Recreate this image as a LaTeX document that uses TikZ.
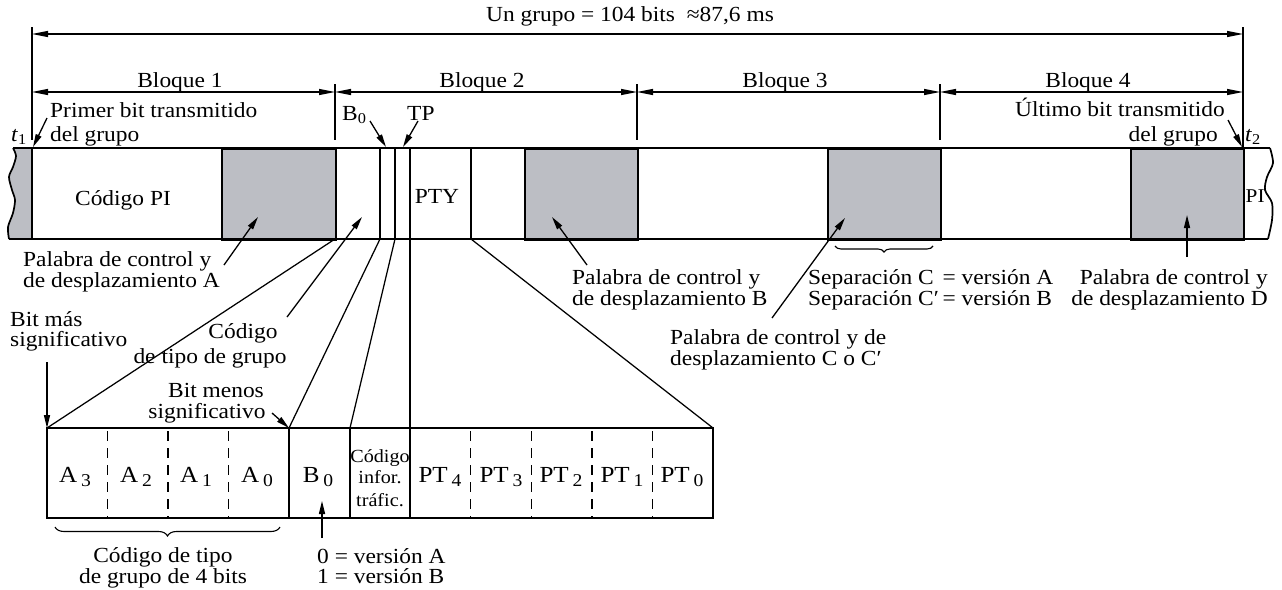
\documentclass[tikz,border=0pt]{standalone}
\usepackage{fontspec}
\setmainfont{Liberation Serif}[FakeStretch=1.09]
\usetikzlibrary{arrows.meta,decorations.pathreplacing}
\definecolor{boxgray}{RGB}{188,190,196}
\newcommand{\subdn}[1]{\raisebox{-3.5pt}{\fontsize{15}{15}\selectfont #1}}
\newcommand{\subcell}[1]{\raisebox{-4.5pt}{\fontsize{18}{18}\selectfont #1}}
\begin{document}
\begin{tikzpicture}[x=1pt,y=-1pt,
  lbl/.style={inner sep=0pt,font=\fontsize{21.5}{21}\selectfont},
  cell/.style={inner sep=0pt,font=\fontsize{23}{23}\selectfont},
  small/.style={inner sep=0pt,font=\fontsize{18.5}{18}\selectfont},
  strip/.style={line width=1.7pt},
  thin/.style={line width=1.25pt},
  dimarrow/.style={line width=1.2pt,{Triangle[length=16pt,width=6pt]}-{Triangle[length=16pt,width=6pt]}},
  lead/.style={line width=1.3pt,-{Triangle[length=13pt,width=6pt]}},
  graybox/.style={fill=boxgray,draw=black,line width=1.7pt},
  bracestyle/.style={line width=1.1pt,decorate,decoration={brace,mirror,amplitude=#1}}
  ]
\useasboundingbox (0,0) rectangle (1282,589);

% ---------- strip ----------
\fill[boxgray] plot[smooth] coordinates {(13,148) (16,156) (13,167) (9,177) (12,190) (15,200) (13,213) (8,227) (9,239)} -- (32,239) -- (32,148) -- cycle;
\draw[strip] plot[smooth] coordinates {(13,148) (16,156) (13,167) (9,177) (12,190) (15,200) (13,213) (8,227) (9,239)};
\draw[strip] plot[smooth] coordinates {(1270,148) (1273,163) (1267,177) (1265,190) (1272,203) (1272,220) (1268,239)};
\node[graybox,minimum width=114pt,minimum height=91pt,inner sep=0pt,anchor=north west] (gA) at (221,148) {};
\node[graybox,minimum width=113pt,minimum height=91pt,inner sep=0pt,anchor=north west] (gB) at (524,148) {};
\node[graybox,minimum width=113pt,minimum height=91pt,inner sep=0pt,anchor=north west] (gC) at (827,148) {};
\node[graybox,minimum width=113pt,minimum height=91pt,inner sep=0pt,anchor=north west] (gD) at (1130,148) {};
\draw[strip] (13,148) -- (1270,148);
\draw[strip] (9,239) -- (1268,239);
\foreach \x in {32,380,395,410,471} \draw[strip] (\x,148) -- (\x,239);

% ---------- dimensions ----------
\coordinate (e0t) at (32,27);  \coordinate (e0b) at (32,140);
\coordinate (e4t) at (1243,27); \coordinate (e4b) at (1243,148);
\draw[thin] (e0t) -- (e0b);
\draw[thin] (e4t) -- (e4b);
\foreach \x in {335,637,940} \draw[thin] (\x,84) -- (\x,140);
\coordinate (d0) at (32,34); \coordinate (d4) at (1243,34);
\draw[dimarrow] (d0) -- (d4);
\coordinate (k0) at (32,92); \coordinate (k1) at (335,92); \coordinate (k2) at (637,92);
\coordinate (k3) at (940,92); \coordinate (k4) at (1243,92);
\draw[dimarrow] (k0) -- (k1);
\draw[dimarrow] (k1) -- (k2);
\draw[dimarrow] (k2) -- (k3);
\draw[dimarrow] (k3) -- (k4);

\node[lbl,anchor=base] (tot) at (630,21) {Un grupo = 104 bits\ \ ≈87,6 ms};
\node[lbl,anchor=base] (bl1) at (180,87) {Bloque 1};
\node[lbl,anchor=base] (bl2) at (482,87) {Bloque 2};
\node[lbl,anchor=base] (bl3) at (785,87) {Bloque 3};
\node[lbl,anchor=base] (bl4) at (1088,87) {Bloque 4};

% ---------- upper labels ----------
\node[lbl,anchor=base west] (pb1) at (50,117) {Primer bit transmitido};
\node[lbl,anchor=base west] (pb2) at (50,141) {del grupo};
\node[lbl,anchor=base west] (t1) at (11,141) {\textit{t}\subdn{1}};
\coordinate (pbT) at (47,118); \coordinate (pbH) at (33,147);
\draw[lead] (pbT) -- (pbH);

\node[lbl,anchor=base west] (b0u) at (342,120) {B\subdn{0}};
\coordinate (b0T) at (370,121); \coordinate (b0H) at (386,147);
\draw[lead] (b0T) -- (b0H);
\node[lbl,anchor=base west] (tp) at (407,120) {TP};
\coordinate (tpT) at (418,121); \coordinate (tpH) at (403,147);
\draw[lead] (tpT) -- (tpH);

\node[lbl,anchor=base east] (ub1) at (1225,116) {Último bit transmitido};
\node[lbl,anchor=base east] (ub2) at (1218,141) {del grupo};
\node[lbl,anchor=base west] (t2) at (1245,141) {\textit{t}\subdn{2}};
\coordinate (ubT) at (1228,120); \coordinate (ubH) at (1242,147);
\draw[lead] (ubT) -- (ubH);

\node[lbl,anchor=base] (cpi) at (123,205) {Código PI};
\node[lbl,anchor=base] (pty) at (437,203) {PTY};
\node[inner sep=0pt,font=\fontsize{19.5}{19}\selectfont,anchor=base west] (pir) at (1245.5,202) {PI};

% ---------- lower labels around strip ----------
\node[lbl,anchor=base west] (pa1) at (23,266) {Palabra de control y};
\node[lbl,anchor=base west] (pa2) at (23,287) {de desplazamiento A};
\coordinate (paT) at (224,265); \coordinate (paH) at (258,217);
\draw[lead] (paT) -- (paH);

\node[lbl,anchor=base west] (bm1) at (10,326) {Bit más};
\node[lbl,anchor=base west] (bm2) at (10,346) {significativo};
\coordinate (bmT) at (47,362); \coordinate (bmH) at (47,428);
\draw[lead] (bmT) -- (bmH);

\node[lbl,anchor=base] (ct1) at (243,338) {Código};
\node[lbl,anchor=base] (ct2) at (210,363) {de tipo de grupo};
\coordinate (ctT) at (287,317); \coordinate (ctH) at (362,217);
\draw[lead] (ctT) -- (ctH);

\node[lbl,anchor=base] (bn1) at (216,397) {Bit menos};
\node[lbl,anchor=base] (bn2) at (207,418) {significativo};
\coordinate (bnT) at (272,413); \coordinate (bnH) at (289,428);
\draw[lead] (bnT) -- (bnH);

\node[lbl,anchor=base west] (pbb1) at (572,284) {Palabra de control y};
\node[lbl,anchor=base west] (pbb2) at (572,305) {de desplazamiento B};
\coordinate (pbbT) at (587,265); \coordinate (pbbH) at (552,217);
\draw[lead] (pbbT) -- (pbbH);

\node[lbl,anchor=base west] (pc1) at (670,344) {Palabra de control y de};
\node[lbl,anchor=base west] (pc2) at (670,365) {desplazamiento C o C′};
\coordinate (pcT) at (772,318); \coordinate (pcH) at (845,218);
\draw[lead] (pcT) -- (pcH);

\coordinate (brl) at (835,246); \coordinate (brr) at (933,246);
\draw[bracestyle=6pt] (brl) -- (brr);
\node[lbl,anchor=base west] (sp1) at (808,284) {Separación C\hphantom{′}\,= versión A};
\node[lbl,anchor=base west] (sp2) at (808,305) {Separación C′\,= versión B};

\node[lbl,anchor=base east] (pd1) at (1268,284) {Palabra de control y};
\node[lbl,anchor=base east] (pd2) at (1268,305) {de desplazamiento D};
\coordinate (pdT) at (1187,257); \coordinate (pdH) at (1187,215);
\draw[lead] (pdT) -- (pdH);

% ---------- fan lines ----------
\coordinate (f1) at (335,239); \coordinate (f2) at (380,239); \coordinate (f3) at (395,239);
\coordinate (f4) at (410,239); \coordinate (f5) at (471,239);
\coordinate (g1) at (47,428); \coordinate (g2) at (289,428); \coordinate (g3) at (350,428);
\coordinate (g4) at (410,428); \coordinate (g5) at (713,428);
\draw[thin] (f1) -- (g1);
\draw[thin] (f2) -- (g2);
\draw[thin] (f3) -- (g3);
\draw[thin] (f4) -- (g4);
\draw[thin] (f5) -- (g5);

% ---------- lower box ----------
\draw[strip] (47,428) rectangle (713,518);
\foreach \i in {4,5,6} \draw[strip] ({47+60.545*\i},428) -- ({47+60.545*\i},518);
\foreach \i in {1,2,3,7,8,9,10} \draw[thin,dash pattern=on 10pt off 7pt] ({47+60.545*\i},431) -- ({47+60.545*\i},518);

\node[cell,anchor=base] (ca3) at (75,482) {A\,\subcell{3}};
\node[cell,anchor=base] (ca2) at (136,482) {A\,\subcell{2}};
\node[cell,anchor=base] (ca1) at (196,482) {A\,\subcell{1}};
\node[cell,anchor=base] (ca0) at (257,482) {A\,\subcell{0}};
\node[cell,anchor=base] (cb0) at (318,482) {B\,\subcell{0}};
\node[small,anchor=base] (ti1) at (380,462) {Código};
\node[small,anchor=base] (ti2) at (380,483) {infor.};
\node[small,anchor=base] (ti3) at (380,506) {tráfic.};
\node[cell,anchor=base] (pt4) at (440,482) {PT\,\subcell{4}};
\node[cell,anchor=base] (pt3) at (501,482) {PT\,\subcell{3}};
\node[cell,anchor=base] (pt2) at (561,482) {PT\,\subcell{2}};
\node[cell,anchor=base] (pt1) at (622,482) {PT\,\subcell{1}};
\node[cell,anchor=base] (pt0) at (682,482) {PT\,\subcell{0}};

\coordinate (bl) at (55,527); \coordinate (br) at (280,527);
\draw[bracestyle=9pt] (bl) -- (br);
\node[lbl,anchor=base] (cg1) at (163,562) {Código de tipo};
\node[lbl,anchor=base] (cg2) at (163,583) {de grupo de 4 bits};

\coordinate (vbT) at (322,538); \coordinate (vbH) at (322,501);
\draw[lead] (vbT) -- (vbH);
\node[lbl,anchor=base west] (v1) at (317,563) {0 = versión A};
\node[lbl,anchor=base west] (v2) at (317,583) {1 = versión B};
\end{tikzpicture}
\end{document}
